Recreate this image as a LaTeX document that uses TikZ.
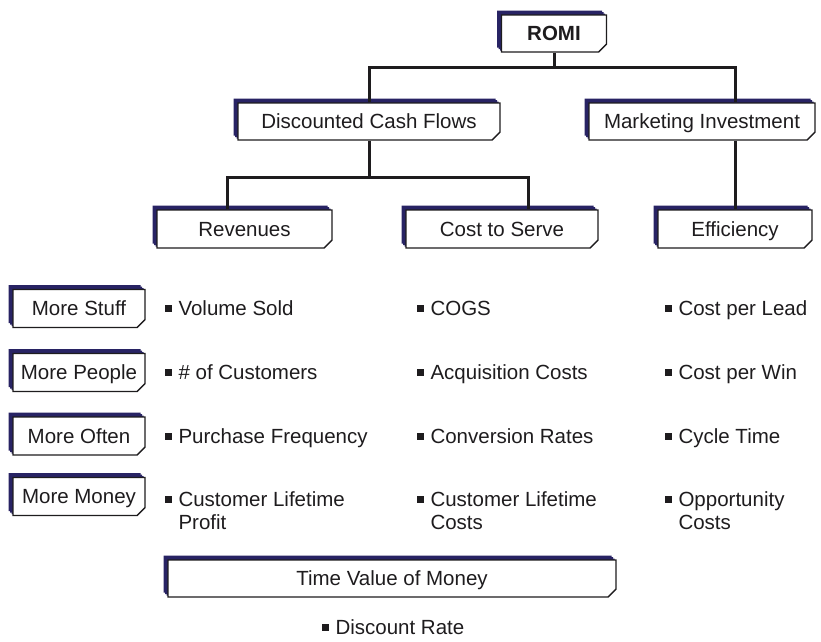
\documentclass[tikz,border=0pt]{standalone}
\usepackage{fontspec}
\setmainfont{Liberation Sans}
\usepackage{tikz}
\usetikzlibrary{shapes,shadows,positioning,calc}
\definecolor{navy}{RGB}{40,35,100}
\definecolor{ink}{RGB}{30,28,30}
\newcommand{\bul}{\rule[0.14em]{0.33em}{0.33em}\hspace{0.32em}}

\begin{document}
\begin{tikzpicture}[
    x=1pt, y=-1pt,
    box/.style={chamfered rectangle, chamfered rectangle corners=south east, chamfered rectangle xsep=4pt, chamfered rectangle ysep=4pt, draw=ink, line width=1.4pt, fill=white, minimum height=37pt, inner sep=0pt, text height=15pt, text depth=1pt, text=ink, font=\fontsize{20.5}{24}\selectfont,
        general shadow={fill=navy, shadow xshift=-1.5pt, shadow yshift=1.5pt},
        general shadow={fill=navy, shadow xshift=-3pt, shadow yshift=3pt},
        general shadow={fill=navy, shadow xshift=-4.5pt, shadow yshift=4.5pt}},
    driver/.style={box, minimum width=132pt, minimum height=38pt},
    item/.style={anchor=base west, inner sep=0pt, align=left, text=ink, font=\fontsize{20.5}{23}\selectfont},
    link/.style={draw=ink, line width=3pt}
]
\useasboundingbox (0,0) rectangle (821,641);

% Tree - top levels
\node[box, minimum width=105pt, font=\fontsize{20.5}{24}\selectfont\bfseries] (romi) at (554,33.5) {ROMI};
\node[box, minimum width=262pt] (dcf) at (369,121.5) {Discounted Cash Flows};
\node[box, minimum width=226pt] (mi) at (702,121.5) {Marketing Investment};
\node[box, minimum width=175pt, minimum height=38pt] (rev) at (244.5,229) {Revenues};
\node[box, minimum width=192pt, minimum height=38pt] (cts) at (502,229) {Cost to Serve};
\node[box, minimum width=154pt, minimum height=38pt] (eff) at (735,229) {Efficiency};

% Row labels
\node[driver] (stuff) at (79,308.5) {More Stuff};
\node[driver] (people) at (79,372.5) {More People};
\node[driver] (often) at (79,436) {More Often};
\node[driver] (money) at (79,496.5) {More Money};

% Connectors
\draw[link] (romi.south) -- ++(0,15) coordinate (top);
\draw[link] (dcf.north) |- (top) -| (eff.north |- mi.north);
\draw[link] (eff.north |- mi.south) -- (eff.north);
\draw[link] (dcf.south) -- ++(0,37) coordinate (mid);
\draw[link] ([xshift=-17pt]rev.north) |- (mid) -| ([xshift=26pt]cts.north);

% Revenues column
\node[item] (vol) at (165,315) {\bul Volume Sold};
\node[item] (cust) at (165,379) {\bul \# of Customers};
\node[item] (freq) at (165,443) {\bul Purchase Frequency};
\node[item] (clp) at (165,529) {\bul Customer Lifetime\\\hphantom{\bul}Profit};

% Cost to Serve column
\node[item] (cogs) at (417,315) {\bul COGS};
\node[item] (acq) at (417,379) {\bul Acquisition Costs};
\node[item] (conv) at (417,443) {\bul Conversion Rates};
\node[item] (clc) at (417,529) {\bul Customer Lifetime\\\hphantom{\bul}Costs};

% Efficiency column
\node[item] (lead) at (665,315) {\bul Cost per Lead};
\node[item] (win) at (665,379) {\bul Cost per Win};
\node[item] (cycle) at (665,443) {\bul Cycle Time};
\node[item] (opp) at (665,529) {\bul Opportunity\\\hphantom{\bul}Costs};

% Time value
\node[box, minimum width=448pt] (tvm) at (392,578.5) {Time Value of Money};
\node[item] (rate) at (322,634) {\bul Discount Rate};

\end{tikzpicture}
\end{document}
